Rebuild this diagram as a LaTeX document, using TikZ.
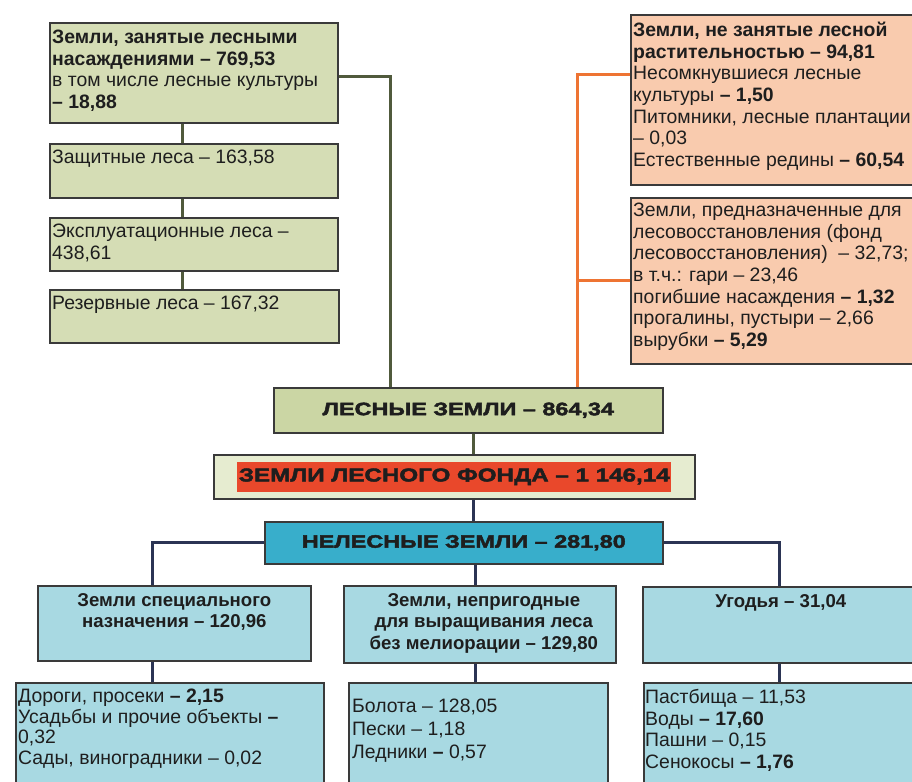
\documentclass[tikz,border=0pt]{standalone}
\usepackage{fontspec}
\setmainfont{Liberation Sans}
\newfontfamily\headfont[FakeStretch=1.3,BoldFeatures={FakeBold=2.5}]{Liberation Sans}
\usetikzlibrary{calc}

\definecolor{greenfill}{HTML}{D5DDB5}
\definecolor{greenhead}{HTML}{CBD6A4}
\definecolor{fondfill}{HTML}{E6ECD0}
\definecolor{greenline}{HTML}{505A3C}
\definecolor{orangefill}{HTML}{F9CBAE}
\definecolor{orangeline}{HTML}{EE7433}
\definecolor{tealfill}{HTML}{A8D9E2}
\definecolor{tealhead}{HTML}{38AECB}
\definecolor{navyline}{HTML}{2B3454}
\definecolor{fondred}{HTML}{E9482B}
\definecolor{edge}{HTML}{3A3A3A}
\definecolor{ink}{HTML}{1E1E1E}

\tikzset{
  panel/.style={draw=edge, line width=1.6pt, anchor=north west, inner sep=0pt},
  greenbox/.style={panel, fill=greenfill},
  orangebox/.style={panel, fill=orangefill},
  tealbox/.style={panel, fill=tealfill},
  body/.style={anchor=north west, inner sep=0pt, align=left, text=ink,
    font=\fontsize{19.4}{21.6}\selectfont},
  subhead/.style={anchor=north, inner sep=0pt, align=center, text=ink,
    font=\fontsize{18.6}{21.6}\selectfont\bfseries},
  mainhead/.style={inner sep=0pt, text=ink,
    font=\fontsize{18}{20}\selectfont\headfont\bfseries},
  link/.style={line width=3pt}
}

\begin{document}
\begin{tikzpicture}[x=1pt, y=-1pt]
\useasboundingbox (0,0) rectangle (912,781);
\fill[white] (0,0) rectangle (912,781);
\begin{scope}
\clip (0,0) rectangle (912,781);

% columns of the connectors
\coordinate (gcol) at (182,0);
\coordinate (gtrunk) at (390,0);
\coordinate (otrunk) at (577,0);
\coordinate (fcol) at (473,0);
\coordinate (lcol) at (152,0);
\coordinate (mcol) at (475,0);
\coordinate (rcol) at (779,0);

% forested lands
\node[greenbox, minimum width=288pt, minimum height=100pt] (g1) at (49,22) {};
\node[greenbox, minimum width=288pt, minimum height=54pt] (g2) at (49,143) {};
\node[greenbox, minimum width=288pt, minimum height=53pt] (g3) at (49,217) {};
\node[greenbox, minimum width=289pt, minimum height=53pt] (g4) at (49,289) {};

% lands without forest cover
\node[orangebox, minimum width=292pt, minimum height=170pt] (or1) at (630,14) {};
\node[orangebox, minimum width=292pt, minimum height=166pt] (or2) at (630,197) {};

% central stack
\node[panel, fill=greenhead, minimum width=389pt, minimum height=45pt] (lz) at (273,387) {};
\node[panel, fill=fondfill, minimum width=481pt, minimum height=44pt] (fond) at (213,454) {};
\node[panel, fill=tealhead, minimum width=398pt, minimum height=42pt] (nl) at (264,521) {};

% non-forest lands
\node[tealbox, minimum width=273pt, minimum height=75pt] (b1) at (37,585) {};
\node[tealbox, minimum width=272pt, minimum height=77pt] (b2) at (343,585) {};
\node[tealbox, minimum width=276pt, minimum height=76pt] (b3) at (642,586) {};
\node[tealbox, minimum width=308pt, minimum height=130pt] (c1) at (15,682) {};
\node[tealbox, minimum width=259pt, minimum height=130pt] (c2) at (348,682) {};
\node[tealbox, minimum width=276pt, minimum height=130pt] (c3) at (643,682) {};

% connectors
\draw[link, greenline] (g1.south -| gcol) -- (g2.north -| gcol);
\draw[link, greenline] (g2.south -| gcol) -- (g3.north -| gcol);
\draw[link, greenline] (g3.south -| gcol) -- (g4.north -| gcol);
\draw[link, greenline] ($(g1.north east)!0.54!(g1.south east)$) -| (lz.north -| gtrunk);
\draw[link, orangeline] ($(or1.north west)!0.35!(or1.south west)$) -| (lz.north -| otrunk);
\draw[link, orangeline] (or2.west) -- (or2.west -| otrunk);
\draw[link, greenline] (lz.south -| fcol) -- (fond.north -| fcol);
\draw[link, navyline] (fond.south -| fcol) -- (nl.north -| fcol);
\draw[link, navyline] (nl.west) -| (b1.north -| lcol);
\draw[link, navyline] (nl.east) -| (b3.north -| rcol);
\draw[link, navyline] (nl.south -| mcol) -- (b2.north -| mcol);
\draw[link, navyline] (b1.south -| lcol) -- (c1.north -| lcol);
\draw[link, navyline] (b2.south -| mcol) -- (c2.north -| mcol);
\draw[link, navyline] (b3.south -| rcol) -- (c3.north -| rcol);

% texts of the forested lands
\node[body] (g1t) at ($(g1.north west)+(3,8)$)
  {\textbf{Земли, занятые лесными}\\ \textbf{насаждениями – 769,53}\\
   в том числе лесные культуры\\ \textbf{– 18,88}};
\node[body] (g2t) at ($(g2.north west)+(3,7)$) {Защитные леса – 163,58};
\node[body] (g3t) at ($(g3.north west)+(3,7)$) {Эксплуатационные леса –\\ 438,61};
\node[body] (g4t) at ($(g4.north west)+(3,7)$) {Резервные леса – 167,32};

% texts of the lands without forest cover
\node[body] (or1t) at ($(or1.north west)+(3,8)$)
  {\textbf{Земли, не занятые лесной}\\ \textbf{растительностью – 94,81}\\
   Несомкнувшиеся лесные\\ культуры \textbf{– 1,50}\\
   Питомники, лесные плантации\\ – 0,03\\
   Естественные редины \textbf{– 60,54}};
\node[body] (or2t) at ($(or2.north west)+(3,6)$)
  {Земли, предназначенные для\\ лесовосстановления (фонд\\
   лесовосстановления) \ – 32,73;\\ в т.ч.: гари – 23,46\\
   погибшие насаждения \textbf{– 1,32}\\ прогалины, пустыри – 2,66\\
   вырубки \textbf{– 5,29}};

% central headings
\node[mainhead] (lzt) at (lz.center) {ЛЕСНЫЕ ЗЕМЛИ – 864,34};
\node[mainhead, font=\fontsize{18.6}{20}\selectfont\headfont\bfseries,
      fill=fondred, inner xsep=1.5pt, minimum height=30pt] (fondt) at (fond.center)
  {ЗЕМЛИ ЛЕСНОГО ФОНДА – 1 146,14};
\node[mainhead] (nlt) at (nl.center) {НЕЛЕСНЫЕ ЗЕМЛИ – 281,80};

% texts of the non-forest lands
\node[subhead] (b1t) at ($(b1.north)+(0,8)$) {Земли специального\\ назначения – 120,96};
\node[subhead] (b2t) at ($(b2.north)+(4,8)$) {Земли, непригодные\\ для выращивания леса\\ без мелиорации – 129,80};
\node[subhead] (b3t) at ($(b3.north)+(0,8)$) {Угодья – 31,04};

\node[body, font=\fontsize{19.4}{20.5}\selectfont] (c1t) at ($(c1.north west)+(3,7)$)
  {Дороги, просеки \textbf{– 2,15}\\ Усадьбы и прочие объекты \textbf{–}\\
   0,32\\ Сады, виноградники – 0,02};
\node[body, font=\fontsize{19.4}{23}\selectfont] (c2t) at ($(c2.north west)+(4,17)$)
  {Болота – 128,05\\ Пески – 1,18\\ Ледники \textbf{–} 0,57};
\node[body] (c3t) at ($(c3.north west)+(2,7)$)
  {Пастбища – 11,53\\ Воды \textbf{– 17,60}\\ Пашни – 0,15\\ Сенокосы \textbf{– 1,76}};
\end{scope}
\end{tikzpicture}
\end{document}
